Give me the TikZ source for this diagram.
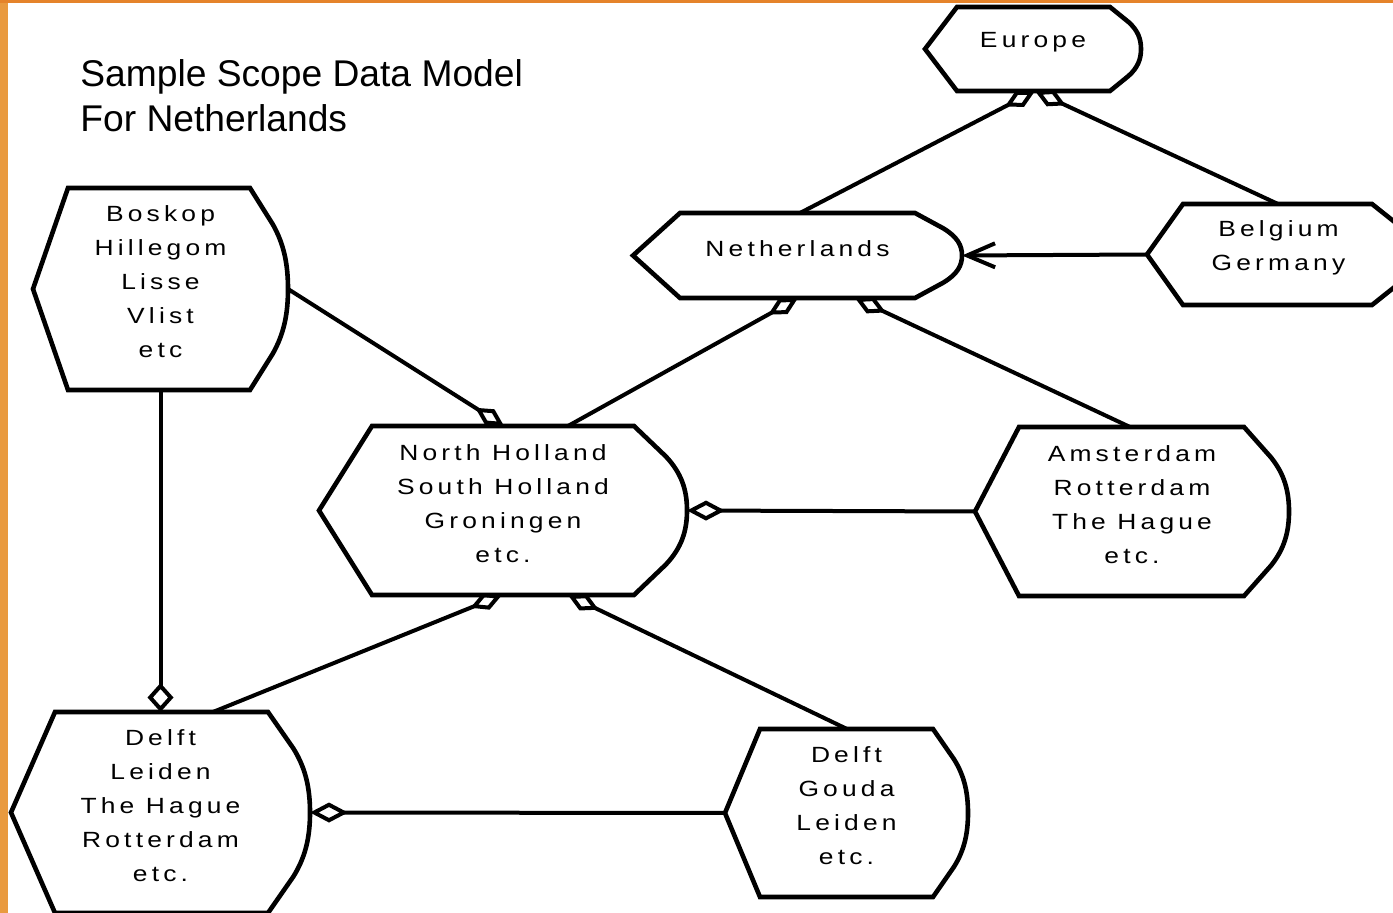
\documentclass[tikz,border=0pt]{standalone}
\usepackage{fontspec}
\setmainfont{Liberation Sans}
\newfontfamily\nodefont[LetterSpace=19,FakeStretch=1.2]{Liberation Sans}
\usetikzlibrary{arrows.meta,calc}
\definecolor{barleft}{HTML}{E99A3F}
\definecolor{bartop}{HTML}{E5832A}
\tikzset{
  outline/.style={draw=black, line width=2.3pt, fill=white, line join=miter},
  box/.style={draw=none, inner sep=0pt, outer sep=0pt, rectangle},
  lbl/.style={font=\nodefont\fontsize{11pt}{17pt}\selectfont, align=center, inner sep=0pt},
  titletext/.style={font=\fontsize{18.6pt}{22.5pt}\selectfont, align=left, inner sep=0pt},
  conn/.style={draw=black, line width=2pt},
  aggd/.style={-{Diamond[open, length=17pt, width=9pt]}},
  aggh/.style={-{Diamond[open, length=19pt, width=10pt]}},
  aggv/.style={-{Diamond[open, length=14.5pt, width=13pt]}},
  gen/.style={-{Straight Barb[length=14pt, width=12pt]}},
}
\newcommand\dshape[8]{%
  \pgfmathsetmacro\dsYm{(#6+#7)/2}%
  \pgfmathsetmacro\dsC{#5-#4}%
  \pgfmathsetmacro\dsH{#7-#6}%
  \pgfmathsetmacro\dsXa{#4+0.6*\dsC}%
  \pgfmathsetmacro\dsYa{#6+0.18*\dsH}%
  \pgfmathsetmacro\dsYb{#7-0.18*\dsH}%
  \pgfmathsetmacro\dsXc{#5-0.1*\dsC}%
  \pgfmathsetmacro\dsYc{#6+0.28*\dsH}%
  \pgfmathsetmacro\dsYd{#6+0.38*\dsH}%
  \pgfmathsetmacro\dsYe{#7-0.28*\dsH}%
  \pgfmathsetmacro\dsYf{#7-0.38*\dsH}%
  \pgfmathsetmacro\dsXm{(#2+#5)/2}%
  \pgfmathsetmacro\dsW{(#5-#2)*0.5}%
  \pgfmathsetmacro\dsHt{(#7-#6)*0.5}%
  \draw[outline] (#2,\dsYm) -- (#3,#6) -- (#4,#6) -- (\dsXa,\dsYa)
     .. controls (\dsXc,\dsYc) and (#5,\dsYd) .. (#5,\dsYm)
     .. controls (#5,\dsYf) and (\dsXc,\dsYe) .. (\dsXa,\dsYb)
     -- (#4,#7) -- (#3,#7) -- cycle;
  \node[box, minimum width=\dsW pt, minimum height=\dsHt pt] (#1) at (\dsXm,\dsYm) {};
  \node[lbl] (#1-t) at ([yshift=3.5pt]#1.center) {#8};
}
\begin{document}
\begin{tikzpicture}[x=0.5pt, y=-0.5pt]
\useasboundingbox (0,0) rectangle (1393,913);
\clip (0,0) rectangle (1393,913);
\fill[white] (0,0) rectangle (1393,913);
\fill[barleft] (0,0) rectangle (8,913);
\fill[bartop] (0,0) rectangle (1393,3);

\node[titletext, anchor=north west] (title) at (80,59) {Sample Scope Data Model\\For Netherlands};

\dshape{eu}{925}{957}{1110}{1141}{7}{91}{Europe}
\dshape{nl}{633}{680}{915}{962}{213}{298}{Netherlands}
\dshape{bg}{1147}{1183}{1372}{1410}{204}{305}{Belgium\\Germany}
\dshape{bk}{33}{68}{250}{288}{188}{390}{Boskop\\Hillegom\\Lisse\\Vlist\\etc}
\dshape{nh}{319}{372}{634}{687}{426}{595}{North Holland\\South Holland\\Groningen\\etc.}
\dshape{am}{975}{1019}{1244}{1289}{427}{596}{Amsterdam\\Rotterdam\\The Hague\\etc.}
\dshape{dl}{11}{55}{268}{310}{712}{913}{Delft\\Leiden\\The Hague\\Rotterdam\\etc.}
\dshape{dg}{725}{760}{933}{968}{729}{897}{Delft\\Gouda\\Leiden\\etc.}

% connectors
\draw[conn, aggd] ($(nl.north west)+(167,0)$) -- ($(eu.south west)+(110,0)$);
\draw[conn, aggd] ($(bg.north west)+(131,0)$) -- ($(eu.south west)+(110,0)$);
\draw[conn, aggd] ($(nh.north west)+(249,0)$) -- ($(nl.south west)+(165,0)$);
\draw[conn, aggd] ($(am.north west)+(155,0)$) -- ($(nl.south west)+(222,0)$);
\draw[conn, gen] (bg.west) -- (nl.east);
\draw[conn, aggd] (bk.east) -- ($(nh.north west)+(185,0)$);
\draw[conn, aggh] (am.west) -- (nh.east);
\draw[conn, aggd] ($(dl.north west)+(202,0)$) -- ($(nh.south west)+(183,0)$);
\draw[conn, aggd] ($(dg.north west)+(122,0)$) -- ($(nh.south west)+(249,0)$);
\draw[conn, aggh] (dg.west) -- (dl.east);
\draw[conn, aggv] (bk.south) -- (dl.north);
\end{tikzpicture}
\end{document}
